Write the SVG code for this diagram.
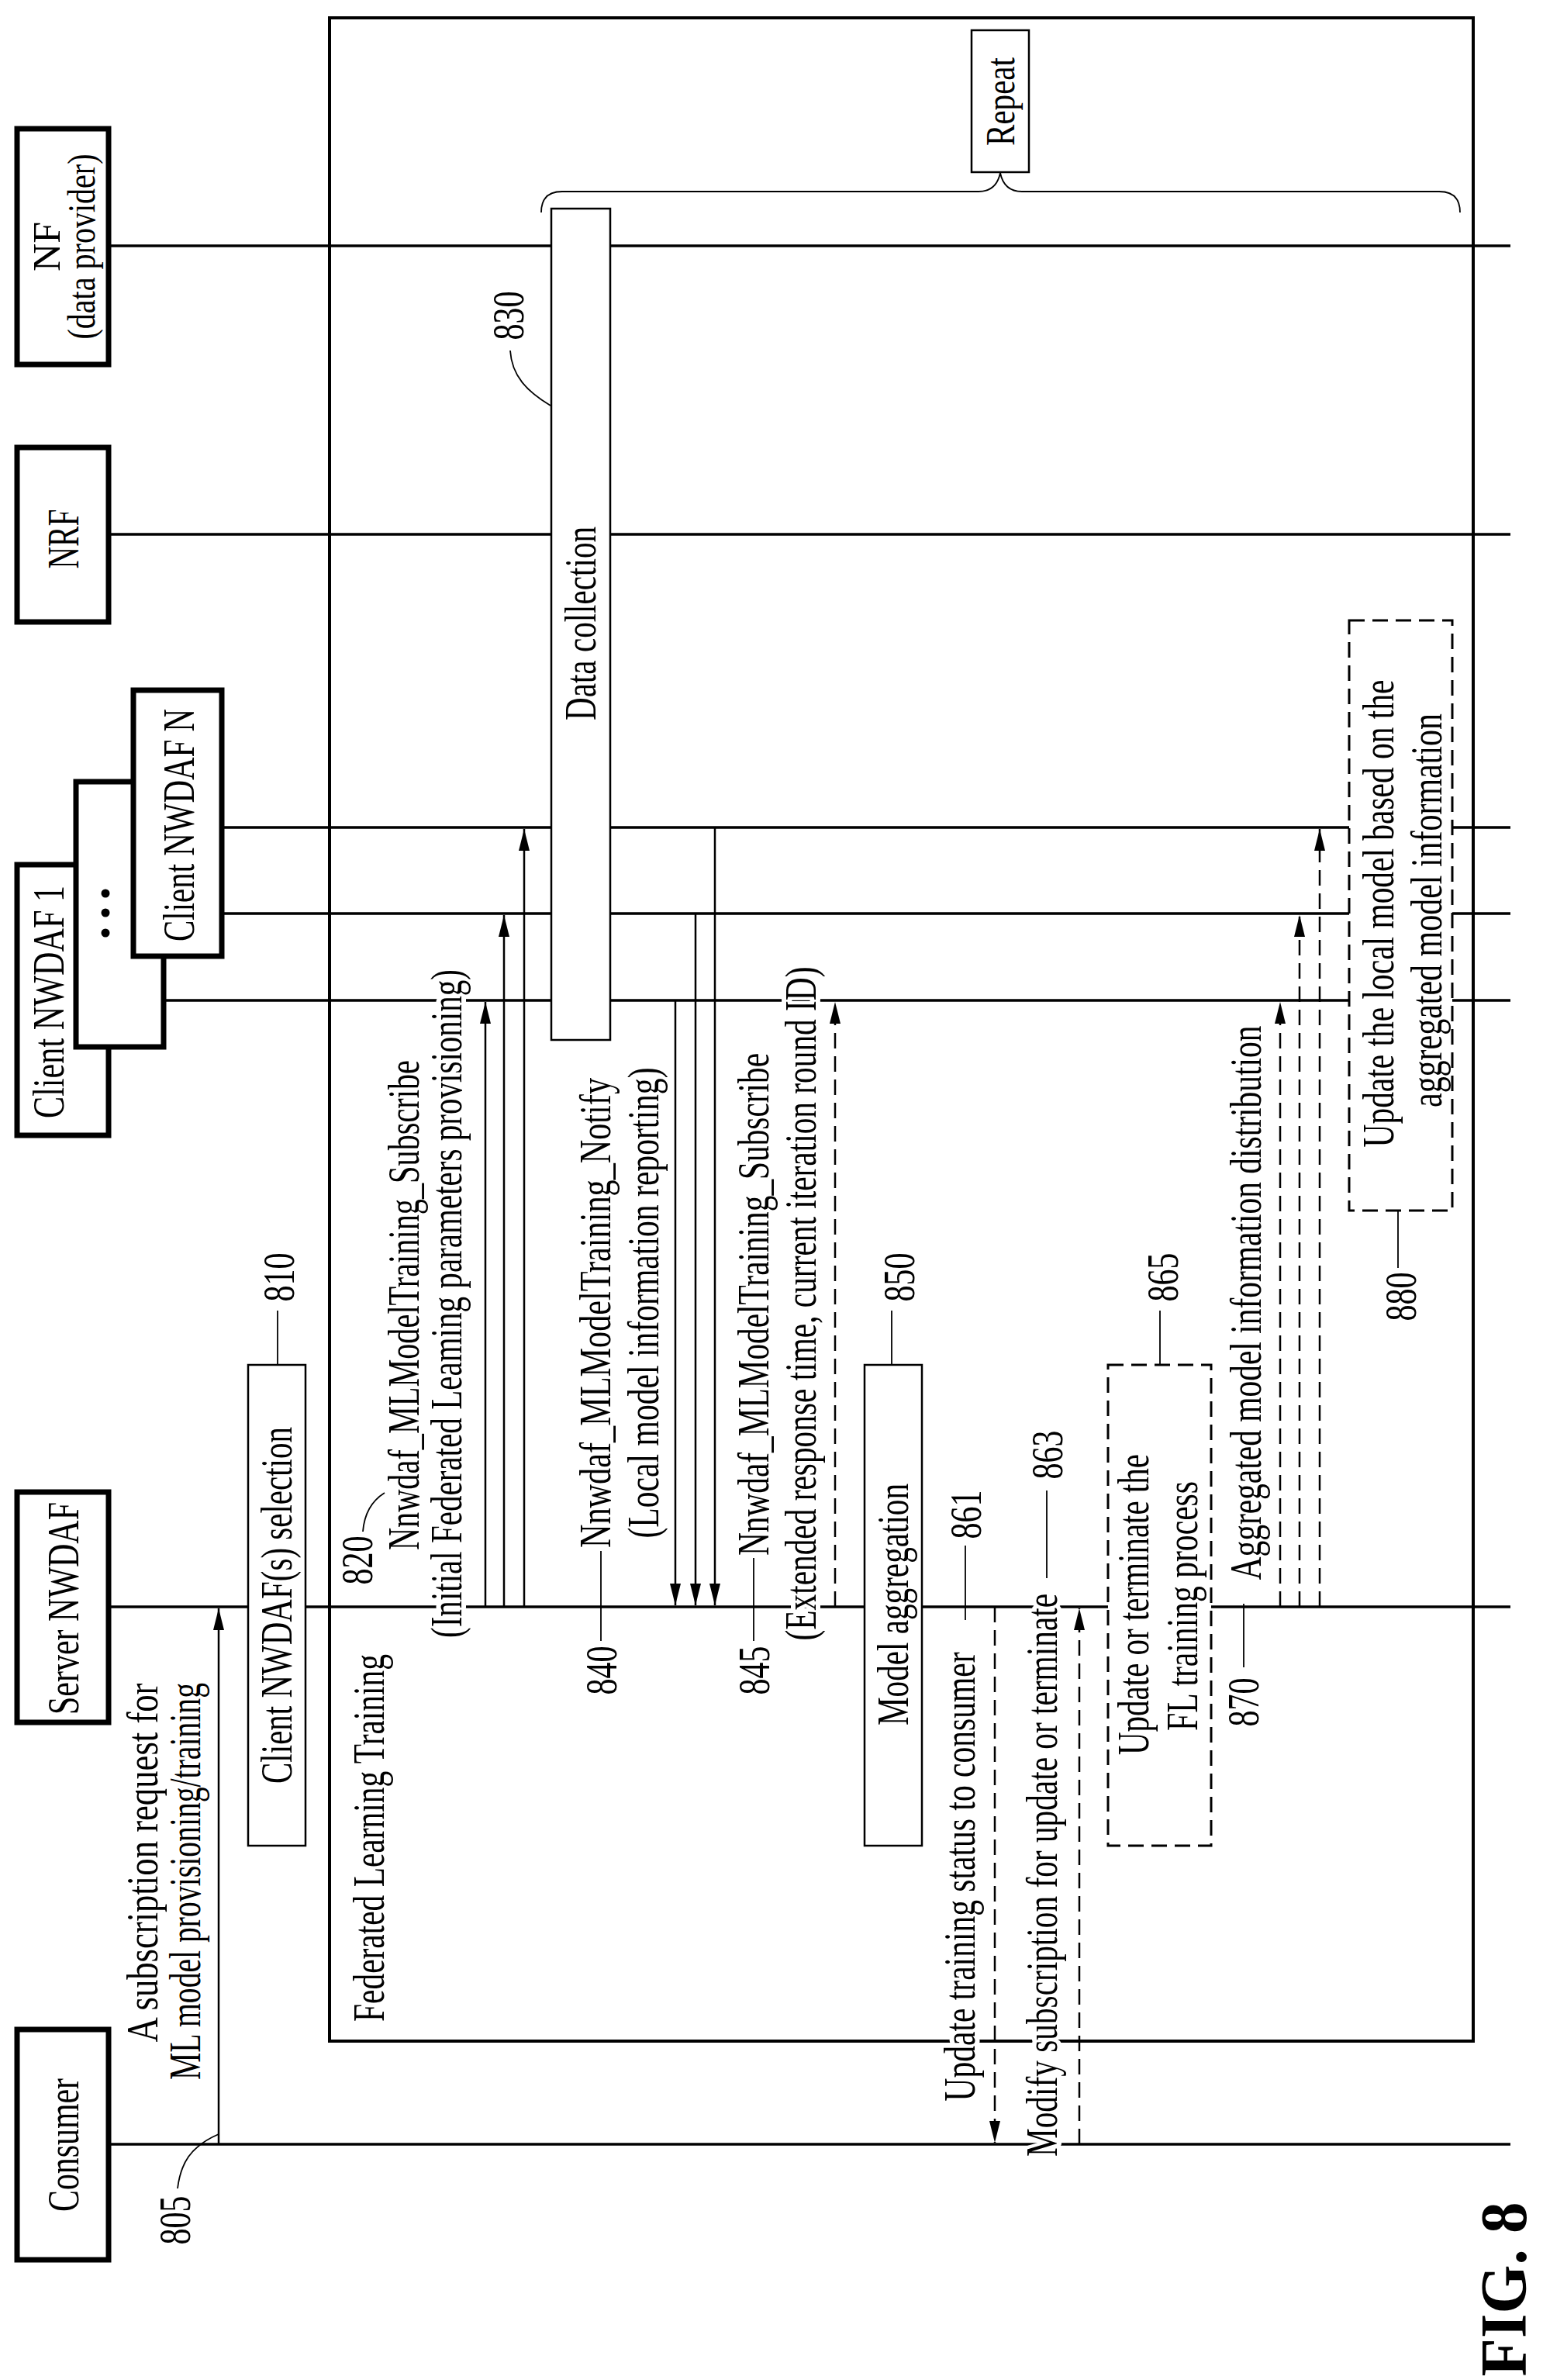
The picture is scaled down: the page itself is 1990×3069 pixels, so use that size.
<svg xmlns="http://www.w3.org/2000/svg" width="1990" height="3069" viewBox="0 0 1990 3069">
<style>
.t{font-family:"Liberation Serif","Times New Roman",serif;font-size:58px;fill:#000;text-anchor:middle}
.h{paint-order:stroke;stroke:#fff;stroke-width:12px;stroke-linejoin:round}
.b{font-weight:bold}
.ll{stroke:#000;stroke-width:3.5;fill:none}
.box{fill:#fff;stroke:#000;stroke-width:7}
.sb{fill:#fff;stroke:#000;stroke-width:3.5}
.db{fill:#fff;stroke:#000;stroke-width:3;stroke-dasharray:20 10}
.m{stroke:#000;stroke-width:2.5;fill:none}
.md{stroke:#000;stroke-width:2.5;fill:none;stroke-dasharray:20 10}
.ld{stroke:#000;stroke-width:1.8;fill:none}
</style>
<defs>
<marker id="ah" markerUnits="userSpaceOnUse" markerWidth="28" markerHeight="14" viewBox="0 0 28 14" refX="28" refY="7" orient="auto">
<path d="M0,0 L28,7 L0,14 z" fill="#000"/>
</marker>
</defs>

<g id="frame"><rect x="425" y="23" width="1475" height="2609" fill="none" stroke="#000" stroke-width="4"/></g>

<g id="lifelines">
<line class="ll" x1="140" y1="2765" x2="1948" y2="2765"/>
<line class="ll" x1="140" y1="2072" x2="1948" y2="2072"/>
<line class="ll" x1="140" y1="1290" x2="1948" y2="1290"/>
<line class="ll" x1="211" y1="1178" x2="1948" y2="1178"/>
<line class="ll" x1="286" y1="1067" x2="1948" y2="1067"/>
<line class="ll" x1="140" y1="689" x2="1948" y2="689"/>
<line class="ll" x1="140" y1="317" x2="1948" y2="317"/>
</g>

<g id="connectors">
<line class="m" x1="282" y1="2765" x2="282" y2="2074" marker-end="url(#ah)"/>
<line class="m" x1="626" y1="2072" x2="626" y2="1292" marker-end="url(#ah)"/>
<line class="m" x1="650" y1="2072" x2="650" y2="1180" marker-end="url(#ah)"/>
<line class="m" x1="676" y1="2072" x2="676" y2="1069" marker-end="url(#ah)"/>
<line class="m" x1="871" y1="1290" x2="871" y2="2070" marker-end="url(#ah)"/>
<line class="m" x1="897" y1="1178" x2="897" y2="2070" marker-end="url(#ah)"/>
<line class="m" x1="922" y1="1067" x2="922" y2="2070" marker-end="url(#ah)"/>
<line class="md" x1="1077" y1="2072" x2="1077" y2="1292" marker-end="url(#ah)"/>
<line class="md" x1="1283" y1="2072" x2="1283" y2="2763" marker-end="url(#ah)"/>
<line class="md" x1="1392" y1="2765" x2="1392" y2="2074" marker-end="url(#ah)"/>
<line class="md" x1="1651" y1="2072" x2="1651" y2="1292" marker-end="url(#ah)"/>
<line class="md" x1="1676" y1="2072" x2="1676" y2="1180" marker-end="url(#ah)"/>
<line class="md" x1="1702" y1="2072" x2="1702" y2="1069" marker-end="url(#ah)"/>
<path class="ld" d="M 229 2822 C 233 2790, 245 2768, 282 2752"/>
<path class="ld" d="M 658 452 C 660 485, 680 505, 710 523"/>
<path class="ld" d="M 468 1975 C 470 1950, 480 1935, 496 1925"/>
<line class="ld" x1="358" y1="1690" x2="358" y2="1760"/>
<line class="ld" x1="775" y1="2000" x2="775" y2="2116"/>
<line class="ld" x1="972" y1="2009" x2="972" y2="2116"/>
<line class="ld" x1="1150" y1="1690" x2="1150" y2="1760"/>
<line class="ld" x1="1245" y1="1993" x2="1245" y2="2089"/>
<line class="ld" x1="1350" y1="1922" x2="1350" y2="2035"/>
<line class="ld" x1="1496" y1="1690" x2="1496" y2="1760"/>
<line class="ld" x1="1604" y1="2068" x2="1604" y2="2150"/>
<line class="ld" x1="1803" y1="1561" x2="1803" y2="1635"/>
<path class="ld" d="M 698 274 Q 698 247 725 247 L 1262 247 Q 1285 247 1290 223 Q 1295 247 1318 247 L 1856 247 Q 1883 247 1883 274"/>
</g>

<g id="consumer"><rect class="box" x="22" y="2617" width="118" height="297"/>
<text class="t" transform="translate(101,2766) rotate(-90)" textLength="172" lengthAdjust="spacingAndGlyphs">Consumer</text></g>
<g id="server"><rect class="box" x="22" y="1924" width="118" height="297"/>
<text class="t" transform="translate(101,2074) rotate(-90)" textLength="274" lengthAdjust="spacingAndGlyphs">Server NWDAF</text></g>
<g id="client1"><rect class="box" x="22" y="1115" width="118" height="349"/>
<text class="t" transform="translate(82,1292) rotate(-90)" textLength="300" lengthAdjust="spacingAndGlyphs">Client NWDAF 1</text></g>
<g id="clientmid"><rect class="box" x="98" y="1008" width="113" height="342"/>
<circle cx="136" cy="1152" r="5.5"/><circle cx="136" cy="1177" r="5.5"/><circle cx="136" cy="1203" r="5.5"/></g>
<g id="clientN"><rect class="box" x="172" y="890" width="114" height="343"/>
<text class="t" transform="translate(250,1064) rotate(-90)" textLength="300" lengthAdjust="spacingAndGlyphs">Client NWDAF N</text></g>
<g id="nrf"><rect class="box" x="22" y="577" width="118" height="225"/>
<text class="t" transform="translate(101,695) rotate(-90)" textLength="77" lengthAdjust="spacingAndGlyphs">NRF</text></g>
<g id="nf"><rect class="box" x="22" y="166" width="118" height="304"/>
<text class="t" style="font-size:50px" transform="translate(77,318) rotate(-90)">NF</text>
<text class="t" style="font-size:50px" transform="translate(122,318) rotate(-90)" textLength="239" lengthAdjust="spacingAndGlyphs">(data provider)</text></g>

<g id="repeat"><rect class="sb" x="1253" y="39" width="74" height="183" style="stroke-width:2.5"/>
<text class="t" style="font-size:52px" transform="translate(1308,131) rotate(-90)" textLength="114" lengthAdjust="spacingAndGlyphs">Repeat</text></g>
<g id="n830"><rect class="sb" x="711" y="269" width="76" height="1072" style="stroke-width:2.5"/>
<text class="t" transform="translate(768,804) rotate(-90)" textLength="250" lengthAdjust="spacingAndGlyphs">Data collection</text>
<text class="t" transform="translate(675,407) rotate(-90)" textLength="63" lengthAdjust="spacingAndGlyphs">830</text></g>
<g id="n810"><rect class="sb" x="320" y="1760" width="74" height="620" style="stroke-width:2.5"/>
<text class="t" transform="translate(376,2070) rotate(-90)" textLength="460" lengthAdjust="spacingAndGlyphs">Client NWDAF(s) selection</text>
<text class="t" transform="translate(379,1647) rotate(-90)" textLength="63" lengthAdjust="spacingAndGlyphs">810</text></g>
<g id="n850"><rect class="sb" x="1115" y="1760" width="74" height="620" style="stroke-width:2.5"/>
<text class="t" transform="translate(1171,2069) rotate(-90)" textLength="312" lengthAdjust="spacingAndGlyphs">Model aggregation</text>
<text class="t" transform="translate(1179,1647) rotate(-90)" textLength="63" lengthAdjust="spacingAndGlyphs">850</text></g>
<g id="n865"><rect class="db" x="1429" y="1760" width="133" height="620"/>
<text class="t" transform="translate(1481,2069) rotate(-90)" textLength="388" lengthAdjust="spacingAndGlyphs">Update or terminate the</text>
<text class="t" transform="translate(1544,2071) rotate(-90)" textLength="322" lengthAdjust="spacingAndGlyphs">FL training process</text>
<text class="t" transform="translate(1519,1647) rotate(-90)" textLength="63" lengthAdjust="spacingAndGlyphs">865</text></g>
<g id="n880"><rect class="db" x="1740" y="800" width="133" height="761"/>
<text class="t" transform="translate(1797,1178) rotate(-90)" textLength="603" lengthAdjust="spacingAndGlyphs">Update the local model based on the</text>
<text class="t" transform="translate(1859,1174) rotate(-90)" textLength="508" lengthAdjust="spacingAndGlyphs">aggregated model information</text>
<text class="t" transform="translate(1826,1672) rotate(-90)" textLength="63" lengthAdjust="spacingAndGlyphs">880</text></g>

<g id="labels">
<text class="t h" transform="translate(203,2402) rotate(-90)" textLength="463" lengthAdjust="spacingAndGlyphs">A subscription request for</text>
<text class="t h" transform="translate(258,2426) rotate(-90)" textLength="512" lengthAdjust="spacingAndGlyphs">ML model provisioning/training</text>
<text class="t" transform="translate(245,2863) rotate(-90)" textLength="63" lengthAdjust="spacingAndGlyphs">805</text>
<text class="t" transform="translate(495,2370) rotate(-90)" textLength="474" lengthAdjust="spacingAndGlyphs">Federated Learning Training</text>
<text class="t h" transform="translate(540,1683) rotate(-90)" textLength="632" lengthAdjust="spacingAndGlyphs">Nnwdaf_MLModelTraining_Subscribe</text>
<text class="t h" transform="translate(595,1681) rotate(-90)" textLength="862" lengthAdjust="spacingAndGlyphs">(Initial Federated Leaming parameters provisioning)</text>
<text class="t" transform="translate(480,2012) rotate(-90)" textLength="63" lengthAdjust="spacingAndGlyphs">820</text>
<text class="t h" transform="translate(787,1693) rotate(-90)" textLength="606" lengthAdjust="spacingAndGlyphs">Nnwdaf_MLModelTraining_Notify</text>
<text class="t h" transform="translate(849,1680) rotate(-90)" textLength="607" lengthAdjust="spacingAndGlyphs">(Local model information reporting)</text>
<text class="t" transform="translate(795,2154) rotate(-90)" textLength="63" lengthAdjust="spacingAndGlyphs">840</text>
<text class="t h" transform="translate(991,1682) rotate(-90)" textLength="648" lengthAdjust="spacingAndGlyphs">Nnwdaf_MLModelTraining_Subscribe</text>
<text class="t h" transform="translate(1052,1681) rotate(-90)" textLength="869" lengthAdjust="spacingAndGlyphs">(Extended response time, current iteration round ID)</text>
<text class="t" transform="translate(992,2154) rotate(-90)" textLength="63" lengthAdjust="spacingAndGlyphs">845</text>
<text class="t h" transform="translate(1257,2420) rotate(-90)" textLength="579" lengthAdjust="spacingAndGlyphs">Update training status to consumer</text>
<text class="t" transform="translate(1265,1953) rotate(-90)" textLength="63" lengthAdjust="spacingAndGlyphs">861</text>
<text class="t h" transform="translate(1363,2418) rotate(-90)" textLength="726" lengthAdjust="spacingAndGlyphs">Modify subscription for update or terminate</text>
<text class="t" transform="translate(1370,1876) rotate(-90)" textLength="63" lengthAdjust="spacingAndGlyphs">863</text>
<text class="t h" transform="translate(1626,1680) rotate(-90)" textLength="715" lengthAdjust="spacingAndGlyphs">Aggregated model information distribution</text>
<text class="t" transform="translate(1623,2195) rotate(-90)" textLength="63" lengthAdjust="spacingAndGlyphs">870</text>
<text class="t b" style="font-size:84px" transform="translate(1968,2952) rotate(-90)" textLength="225" lengthAdjust="spacingAndGlyphs">FIG. 8</text>
</g>
</svg>
